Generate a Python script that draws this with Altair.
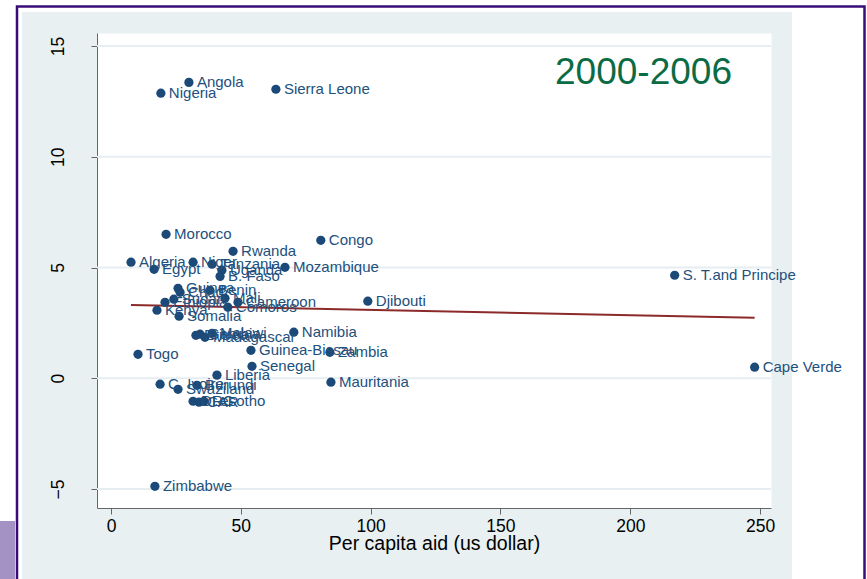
import altair as alt
import pandas as pd

# Per capita aid (US$) and growth (%) by country, 2000-2006
countries = [
    "Angola", "Nigeria", "Sierra Leone", "Morocco", "Rwanda", "Congo",
    "Algeria", "Egypt", "Niger", "Tanzania", "Uganda", "B. Faso", "Mozambique",
    "Guinea", "Chad", "Benin", "Sudan", "Ethiopia", "Mali", "Cameroon",
    "Comoros", "Kenya", "Somalia", "Namibia", "Eritrea", "Gambia", "Malawi",
    "Madagascar", "Togo", "Guinea-Bissau", "Zambia", "Djibouti", "Senegal",
    "Liberia", "Mauritania", "C. Ivoire", "Burundi", "Swaziland", "DRC", "CAR",
    "Lesotho", "Zimbabwe", "S. T.and Principe", "Cape Verde",
]
aid = [
    30.0, 19.2, 63.5, 21.2, 47.0, 80.8,
    7.7, 16.6, 31.6, 38.9, 42.7, 42.0, 67.0,
    25.8, 26.6, 38.1, 24.2, 20.8, 43.9, 48.9,
    45.0, 17.7, 26.2, 70.4, 32.7, 34.3, 38.9,
    36.2, 10.4, 53.9, 84.3, 98.9, 54.3,
    40.8, 84.7, 18.9, 33.1, 25.8, 31.6, 33.9,
    35.8, 16.9, 217.1, 247.9,
]
growth = [
    13.36, 12.87, 13.05, 6.50, 5.73, 6.23,
    5.24, 4.92, 5.24, 5.15, 4.88, 4.60, 5.01,
    4.06, 3.88, 3.97, 3.57, 3.43, 3.61, 3.43,
    3.21, 3.07, 2.80, 2.08, 1.94, 1.99, 2.03,
    1.85, 1.08, 1.26, 1.17, 3.48, 0.54,
    0.14, -0.18, -0.27, -0.32, -0.50, -1.04, -1.08,
    -1.04, -4.88, 4.65, 0.50,
]
y_ticks = [-5, 0, 5, 10, 15]
x_ticks = [0, 50, 100, 150, 200, 250]
period = "2000-2006"

df = pd.DataFrame({"country": countries, "aid": aid, "growth": growth})
grid_df = pd.DataFrame({"growth": y_ticks})
one = pd.DataFrame({"k": [0]})
period_df = pd.DataFrame({"label": [period]})

FONT = "Liberation Sans"
NAVY = "#1c4a78"
BG = "#e8f0f2"
W, H = 674, 475

x_scale = alt.Scale(domain=[-5.4, 254.2], nice=False, zero=False)
y_scale = alt.Scale(domain=[-5.86, 15.59], nice=False, zero=False)

x_axis = alt.Axis(
    values=x_ticks, title="Per capita aid (us dollar)", grid=False,
    domainColor="#666666", tickColor="#666666", tickSize=6, tickWidth=1,
    labelFontSize=17.5, titleFontSize=19.5, labelPadding=3, titlePadding=0,
    labelColor="#000000", titleColor="#000000", titleFontWeight="normal",
    labelFont=FONT, titleFont=FONT, labelFlush=False,
)
y_axis = alt.Axis(
    values=y_ticks, title=None, grid=False,
    domainColor="#666666", tickColor="#666666", tickSize=6, tickWidth=1,
    labelFontSize=17.5, labelFont=FONT, labelColor="#000000",
    labelAngle=-90, labelAlign="center", labelBaseline="bottom",
    labelPadding=24, labelFlush=False,
)

X = alt.X("aid:Q", scale=x_scale, axis=x_axis)
Y = alt.Y("growth:Q", scale=y_scale, axis=y_axis)


def frame_rect(x1, x2, y1, y2, color):
    return alt.Chart(one).mark_rect(color=color).encode(
        x=alt.value(x1), x2=alt.value(x2), y=alt.value(y1), y2=alt.value(y2)
    )


# page frame around the plot
white_top = frame_rect(-97, 770, -33, -21, "#ffffff")
white_left = frame_rect(-97, -75, -33, 546, "#ffffff")
white_right = frame_rect(695, 770, -33, 546, "#ffffff")
corner = frame_rect(-97, -82, 488, 546, "#a592c4")
border = alt.Chart(one).mark_rect(
    fill="transparent", stroke="#3a0c78", strokeWidth=2.5
).encode(
    x=alt.value(-80), x2=alt.value(767.5), y=alt.value(-26.5), y2=alt.value(580)
)

grid = alt.Chart(grid_df).mark_rule(color="#e6eef1", strokeWidth=2).encode(y=Y)

fit = alt.Chart(df).transform_regression("aid", "growth").mark_line(
    color="#8c2a2a", strokeWidth=2
).encode(x=X, y=Y)

points = alt.Chart(df).mark_circle(size=85, opacity=1, color=NAVY).encode(x=X, y=Y)

labels = alt.Chart(df).mark_text(
    align="left", baseline="middle", dx=8, fontSize=15, font=FONT, color="#22507d"
).encode(x=X, y=Y, text="country:N")

period_text = alt.Chart(period_df).mark_text(
    align="center", baseline="alphabetic", fontSize=37, font=FONT, color="#0b6b45"
).encode(x=alt.value(546.5), y=alt.value(51), text="label:N")

chart = alt.layer(
    white_top, white_left, white_right, corner, border,
    grid, fit, points, labels, period_text,
).properties(
    width=W, height=H,
    autosize=alt.AutoSizeParams(type="none"),
    padding={"left": 97, "top": 33, "right": 96, "bottom": 71},
    background=BG,
).configure_view(stroke="transparent", fill="#ffffff")

chart.save("out.html", embed_options={"renderer": "svg", "actions": False})
